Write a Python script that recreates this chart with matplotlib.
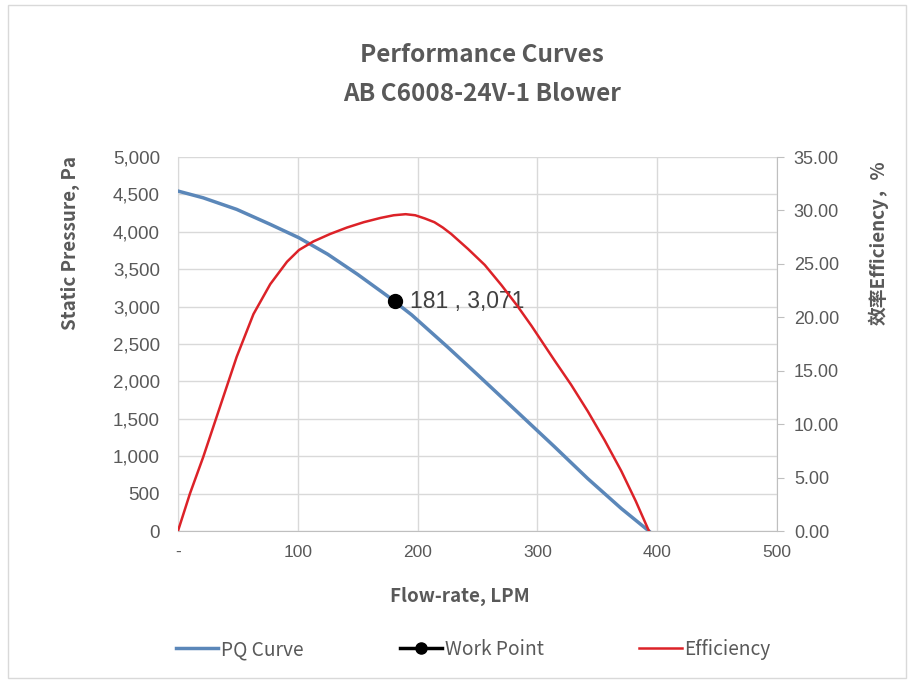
import numpy as np
import matplotlib
matplotlib.use("Agg")
import matplotlib.pyplot as plt
from matplotlib.lines import Line2D
from matplotlib.patches import Rectangle
from matplotlib.ticker import FuncFormatter, MultipleLocator

plt.rcParams['font.family'] = ['Noto Sans CJK SC', 'DejaVu Sans']

# flow rate (LPM) and static pressure (Pa)
flow = [0, 21, 49, 77, 101, 125, 150, 175, 195, 225, 250, 286, 314, 342, 370, 393]
pressure = [4545, 4455, 4300, 4100, 3920, 3700, 3430, 3140, 2890, 2460, 2090, 1550, 1130, 700, 300, 0]
# efficiency (%)
eff_flow = [0, 10, 21, 35, 49, 63, 77, 91, 101, 113, 127, 141, 155, 169, 180, 190, 198, 206,
            214, 221, 228, 242, 256, 270, 283, 295, 314, 328, 342, 356, 370, 382, 393]
efficiency = [0, 3.5, 6.9, 11.6, 16.3, 20.3, 23.1, 25.2, 26.3, 27.1, 27.8, 28.4, 28.9, 29.3, 29.55,
              29.65, 29.55, 29.25, 28.9, 28.4, 27.8, 26.4, 24.9, 23.0, 21.1, 19.2, 16.0, 13.7, 11.2,
              8.5, 5.6, 2.8, 0]
work_point = (181, 3071)

blue = '#5b87b9'
red = '#dc2228'
grey = '#595959'

fig = plt.figure(figsize=(9.14, 6.83), dpi=100)
ax = fig.add_axes([0.1947, 0.2225, 0.6556, 0.5476])
ax2 = ax.twinx()

ax.plot(flow, pressure, color=blue, lw=2.5, zorder=3, solid_joinstyle='round')
ax.plot(work_point[0], work_point[1], 'o', color='black', ms=10, zorder=5)
ax.text(work_point[0] + 13, work_point[1], '181 , 3,071', fontsize=16.5, color='#404040',
        va='center', ha='left', family=['Liberation Sans'], zorder=6)
ax2.plot(eff_flow, efficiency, color=red, lw=1.8, solid_joinstyle='round')

ax.set_xlim(0, 500)
ax.set_ylim(0, 5000)
ax2.set_ylim(0, 35)
ax.xaxis.set_major_locator(MultipleLocator(100))
ax.yaxis.set_major_locator(MultipleLocator(500))
ax2.yaxis.set_major_locator(MultipleLocator(5))
ax.xaxis.set_major_formatter(FuncFormatter(lambda v, p: '-' if v == 0 else '%d' % v))
ax.yaxis.set_major_formatter(FuncFormatter(lambda v, p: '{:,.0f}'.format(v)))
ax2.yaxis.set_major_formatter(FuncFormatter(lambda v, p: '%.2f' % v))

ax.grid(True, color='#d9d9d9', lw=1)
ax.set_axisbelow(True)
for a in (ax, ax2):
    for s in a.spines.values():
        s.set_visible(False)
ax.spines['bottom'].set_visible(True)
ax.spines['bottom'].set_color('#bfbfbf')
ax.spines['left'].set_visible(True)
ax.spines['left'].set_color('#d9d9d9')
ax2.spines['right'].set_visible(True)
ax2.spines['right'].set_color('#bfbfbf')

ax.tick_params(axis='y', length=0, labelsize=13.5, labelcolor=grey, pad=13)
ax.tick_params(axis='x', length=0, labelsize=12.5, labelcolor=grey, pad=10)
ax2.tick_params(axis='y', length=5, color='#bfbfbf', labelsize=13, labelcolor=grey, pad=7)
for lab in ax.get_yticklabels() + ax2.get_yticklabels() + ax.get_xticklabels():
    lab.set_family(['Liberation Sans'])

ax.set_xlabel('Flow-rate, LPM', fontsize=13.5, color=grey, fontweight='bold')
ax.xaxis.set_label_coords(0.47, -0.149)
ax.set_ylabel('Static Pressure, Pa', fontsize=13.5, color=grey, fontweight='bold')
ax.yaxis.set_label_coords(-0.164, 0.77)
ax2.set_ylabel('效率Efficiency，%', fontsize=13.5, color=grey, fontweight='bold')
ax2.yaxis.set_label_coords(1.152, 0.77)

fig.text(0.527, 0.919, 'Performance Curves', ha='center', va='center', fontsize=17.5,
         color=grey, fontweight='bold')
fig.text(0.527, 0.863, 'AB C6008-24V-1 Blower', ha='center', va='center', fontsize=17.5,
         color=grey, fontweight='bold')

handles = [Line2D([], [], color=blue, lw=2.5),
           Line2D([], [], color='black', lw=2.5, marker='o', ms=8),
           Line2D([], [], color=red, lw=1.8)]
fig.legend(handles, ['PQ Curve', 'Work Point', 'Efficiency'], loc='center',
           bbox_to_anchor=(0.518, 0.049), ncol=3, frameon=False, fontsize=13.8,
           labelcolor=grey, handlelength=2.2, handletextpad=0.15, columnspacing=5.0)

fig.patches.append(Rectangle((0.009, 0.008), 0.982, 0.985, transform=fig.transFigure,
                             fill=False, edgecolor='#d9d9d9', lw=1))

fig.savefig('out.png', dpi=100)
